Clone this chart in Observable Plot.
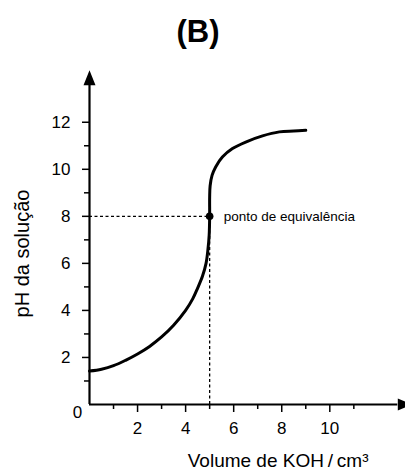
<!DOCTYPE html>
<html>
<head>
<meta charset="utf-8">
<script src="https://cdn.jsdelivr.net/npm/d3@7"></script>
<script src="https://cdn.jsdelivr.net/npm/@observablehq/plot@0.6"></script>
<style>
  html, body { margin: 0; padding: 0; background: #fff; }
  body { width: 405px; height: 471px; overflow: hidden; font-family: "Liberation Sans", Arial, sans-serif; }
  #title { height: 55px; line-height: 55px; text-align: center; font-weight: bold; font-size: 31px; padding-right: 9px; box-sizing: border-box; padding-top: 4px; }
  svg { display: block; }
</style>
</head>
<body>
<div id="title">(B)</div>
<div id="chart"></div>
<script>
const titleText = "(B)";
const xLabel = "Volume de KOH\u2009/\u2009cm³";
const yLabel = "pH da solução";
const eqLabel = "ponto de equivalência";

// titration curve (volume of KOH in cm³, pH)
const volume = [0, 0.5, 1, 1.5, 2, 2.5, 3, 3.5, 4, 4.3, 4.5, 4.7, 4.85, 4.93, 4.98, 5.0, 5.0, 5.02, 5.1, 5.25, 5.53, 5.95, 6.5, 7.2, 7.9, 8.5, 9.0];
const pH     = [1.42, 1.5, 1.65, 1.88, 2.15, 2.47, 2.87, 3.37, 4.0, 4.5, 4.95, 5.45, 6.0, 6.6, 7.2, 8.0, 8.8, 9.3, 9.74, 10.1, 10.52, 10.88, 11.16, 11.42, 11.59, 11.63, 11.66];
const equivalence = [{volume: 5, pH: 8}];

const xMajor = [2, 4, 6, 8, 10];
const xMinor = [1, 3, 5, 7, 9, 11];
const yMajor = [2, 4, 6, 8, 10, 12];
const yMinor = [1, 3, 5, 7, 9, 11];
const originLabel = [{volume: 0, pH: 0, text: "0"}];
const xAxisEnd = 12.83;
const yAxisEnd = 13.57;

const curve = volume.map((v, i) => ({volume: v, pH: pH[i]}));

const arrowHead = {
  draw(context, size) {
    context.moveTo(0, -15);
    context.lineTo(6, 0);
    context.lineTo(-6, 0);
    context.closePath();
  }
};

const chart = Plot.plot({
  width: 405,
  height: 416,
  marginLeft: 89,
  marginRight: 0,
  marginTop: 15,
  marginBottom: 67,
  style: {fontFamily: "Liberation Sans, Arial, sans-serif", background: "#fff", color: "#000"},
  x: {domain: [0, 13.15]},
  y: {domain: [0, 14.2]},
  marks: [
    // axis lines
    Plot.ruleY([0], {x1: 0, x2: xAxisEnd, stroke: "#000", strokeWidth: 2.2}),
    Plot.ruleX([0], {y1: 0, y2: yAxisEnd, stroke: "#000", strokeWidth: 2.2}),
    Plot.dot([{x: xAxisEnd, y: 0}], {x: "x", y: "y", symbol: arrowHead, rotate: 90, fill: "#000", stroke: null, r: 6}),
    Plot.dot([{x: 0, y: yAxisEnd}], {x: "x", y: "y", symbol: arrowHead, fill: "#000", stroke: null, r: 6}),
    // ticks
    Plot.axisX(xMajor, {tickSize: 8, tickPadding: 9.5, fontSize: 17, strokeWidth: 1.5, label: null}),
    Plot.axisX(xMinor, {tickSize: 5, strokeWidth: 1.5, tickFormat: () => "", label: null}),
    Plot.axisY(yMajor, {tickSize: 7, tickPadding: 12, fontSize: 17, strokeWidth: 1.5, label: null}),
    Plot.axisY(yMinor, {tickSize: 5, strokeWidth: 1.5, tickFormat: () => "", label: null}),
    Plot.text(originLabel, {x: "volume", y: "pH", text: "text", dx: -12, dy: 8, fontSize: 17}),
    // dashed guides
    Plot.ruleY(equivalence, {y: "pH", x1: 0, x2: "volume", stroke: "#000", strokeWidth: 1.3, strokeDasharray: "3,2.5"}),
    Plot.ruleX(equivalence, {x: "volume", y1: 0, y2: "pH", stroke: "#000", strokeWidth: 1.3, strokeDasharray: "3,2.5"}),
    // curve
    Plot.line(curve, {x: "volume", y: "pH", curve: "catmull-rom", stroke: "#000", strokeWidth: 3}),
    Plot.dot(equivalence, {x: "volume", y: "pH", r: 3.8, fill: "#000"}),
    Plot.text(equivalence, {x: "volume", y: "pH", text: () => eqLabel, dx: 14, textAnchor: "start", fontSize: 13.5}),
    // axis titles
    Plot.text([xLabel], {frameAnchor: "bottom-right", text: d => d, dx: -37, dy: 62, lineAnchor: "bottom", fontSize: 19}),
    Plot.text([yLabel], {frameAnchor: "left", text: d => d, dx: -67, dy: 16, rotate: -90, textAnchor: "middle", fontSize: 20})
  ]
});
document.getElementById("title").textContent = titleText;
document.getElementById("chart").appendChild(chart);
</script>
</body>
</html>
